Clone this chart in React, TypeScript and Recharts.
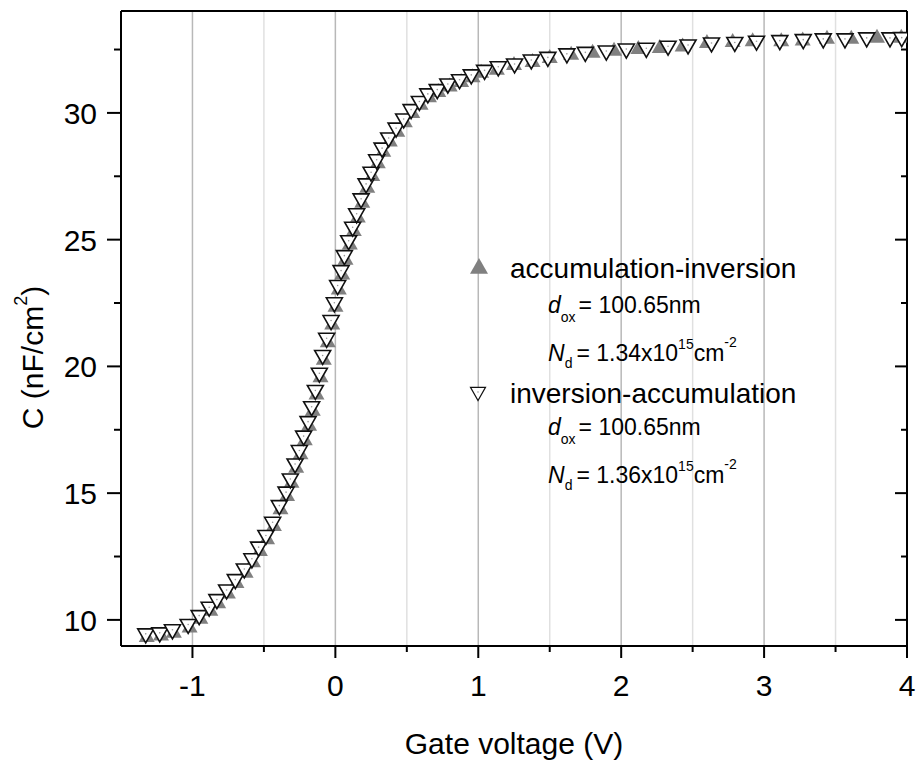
import React from "react";
import { ScatterChart, Scatter, XAxis, YAxis, ReferenceLine, Legend } from "recharts";

// accumulation-inversion sweep (grey up triangles)
const accVoltage = [
  -1.32, -1.22, -1.13, -1.02, -0.945, -0.875, -0.82, -0.752, -0.692, -0.628, -0.576, -0.528, -0.478, -0.43,
  -0.384, -0.338, -0.307, -0.274, -0.244, -0.214, -0.184, -0.158, -0.132, -0.104, -0.081, -0.053, -0.022, 0.001,
  0.024, 0.048, 0.071, 0.101, 0.129, 0.157, 0.188, 0.223, 0.258, 0.297, 0.335, 0.381, 0.433, 0.486, 0.538, 0.596,
  0.655, 0.72, 0.8, 0.88, 0.96, 1.02, 1.13, 1.25, 1.38, 1.5, 1.65, 1.8, 1.95, 2.12, 2.27, 2.43, 2.6, 2.78, 2.92,
  3.12, 3.27, 3.44, 3.61, 3.79, 3.96,
];
const accCapacitance = [
  9.36, 9.42, 9.53, 9.74, 10.08, 10.4, 10.7, 11.08, 11.49, 11.9, 12.31, 12.76, 13.22, 13.74,
  14.4, 14.93, 15.45, 16.04, 16.57, 17.13, 17.7, 18.29, 18.93, 19.61, 20.3, 20.99, 21.69, 22.39,
  23.07, 23.66, 24.25, 24.85, 25.38, 25.91, 26.5, 27.09, 27.55, 28.05, 28.51, 28.91, 29.3, 29.67, 30.04, 30.36,
  30.66, 30.86, 31.08, 31.26, 31.45, 31.62, 31.74, 31.93, 32.05, 32.21, 32.33, 32.41, 32.49, 32.56, 32.6, 32.66,
  32.8, 32.84, 32.87, 32.87, 32.9, 32.96, 32.96, 33.0, 33.0,
];

// inversion-accumulation sweep (white down triangles)
const invVoltage = [
  -1.327, -1.229, -1.14, -1.03, -0.953, -0.883, -0.829, -0.761, -0.7, -0.637, -0.584, -0.537, -0.486, -0.439,
  -0.392, -0.345, -0.315, -0.282, -0.252, -0.222, -0.191, -0.166, -0.14, -0.112, -0.089, -0.061, -0.03, -0.007,
  0.016, 0.04, 0.063, 0.093, 0.121, 0.149, 0.18, 0.215, 0.25, 0.289, 0.327, 0.373, 0.425, 0.478, 0.53, 0.588,
  0.647, 0.713, 0.787, 0.869, 0.951, 1.044, 1.14, 1.254, 1.371, 1.487, 1.62, 1.749, 1.896, 2.036, 2.176, 2.328,
  2.468, 2.632, 2.795, 2.947, 3.11, 3.274, 3.414, 3.566, 3.718, 3.881, 3.963,
];
const invCapacitance = [
  9.41, 9.45, 9.57, 9.78, 10.13, 10.46, 10.76, 11.14, 11.55, 11.97, 12.37, 12.83, 13.29, 13.81,
  14.47, 15.0, 15.52, 16.11, 16.64, 17.21, 17.78, 18.37, 19.01, 19.69, 20.39, 21.07, 21.77, 22.47,
  23.15, 23.74, 24.33, 24.92, 25.45, 25.98, 26.57, 27.16, 27.62, 28.11, 28.57, 28.97, 29.36, 29.72, 30.09, 30.41,
  30.71, 30.88, 31.1, 31.27, 31.46, 31.64, 31.78, 31.89, 32.05, 32.15, 32.29, 32.35, 32.4, 32.48, 32.51, 32.59,
  32.64, 32.72, 32.74, 32.79, 32.81, 32.85, 32.88, 32.88, 32.92, 32.92, 32.93,
];

const xTicks = [-1, -0.5, 0, 0.5, 1, 1.5, 2, 2.5, 3, 3.5, 4];
const xMajorGrid = [-1, 0, 1, 2, 3];
const xMinorGrid = [-0.5, 0.5, 1.5, 2.5, 3.5];
const yTicks = [10, 12.5, 15, 17.5, 20, 22.5, 25, 27.5, 30, 32.5];

const accData = accVoltage.map((v, i) => ({ v, c: accCapacitance[i] }));
const invData = invVoltage.map((v, i) => ({ v, c: invCapacitance[i] }));

const FONT = "'Liberation Sans', Arial, Helvetica, sans-serif";
const isMajor = (v: number, step: number) => Math.abs(v / step - Math.round(v / step)) < 1e-6;

function UpTriangle({ cx, cy, size = 16 }: any) {
  const h = size * 0.5;
  return <polygon points={`${cx},${cy - h} ${cx + h},${cy + h * 0.75} ${cx - h},${cy + h * 0.75}`} fill="#808080" />;
}

function DownTriangle({ cx, cy, size = 16, sw = 1.6 }: any) {
  const h = size * 0.5;
  return (
    <g>
      <polygon
        points={`${cx - h},${cy - h * 0.75} ${cx + h},${cy - h * 0.75} ${cx},${cy + h}`}
        fill="#fff"
        stroke="#111"
        strokeWidth={sw}
      />
      <circle cx={cx} cy={cy - 1} r={0.8} fill="#999" />
    </g>
  );
}

function BottomTick({ x, y, payload }: any) {
  const major = isMajor(payload.value, 1);
  return (
    <g>
      <line x1={x} x2={x} y1={y} y2={y + (major ? 12 : 6)} stroke="#000" strokeWidth={2} />
      {major && (
        <text x={x} y={y + 50} textAnchor="middle" fontSize={30} fontFamily={FONT} fill="#000">
          {payload.value}
        </text>
      )}
    </g>
  );
}

function TopTick({ x, y, payload }: any) {
  const major = isMajor(payload.value, 1);
  return <line x1={x} x2={x} y1={y} y2={y + (major ? 13 : 6)} stroke="#000" strokeWidth={2} />;
}

function LeftTick({ x, y, payload }: any) {
  const major = isMajor(payload.value, 5);
  return (
    <g>
      <line x1={x - (major ? 14 : 7)} x2={x} y1={y} y2={y} stroke="#000" strokeWidth={2} />
      {major && (
        <text x={x - 24} y={y + 11} textAnchor="end" fontSize={30} fontFamily={FONT} fill="#000">
          {payload.value}
        </text>
      )}
    </g>
  );
}

function RightTick({ x, y, payload }: any) {
  const major = isMajor(payload.value, 5);
  return <line x1={x - (major ? 12 : 6)} x2={x} y1={y} y2={y} stroke="#000" strokeWidth={2} />;
}

function LegendBox() {
  // local coordinates, box placed at page (450, 240)
  return (
    <svg width={360} height={260} style={{ display: "block", overflow: "visible" }}>
      <g fontFamily={FONT} fill="#000">
        <UpTriangle cx={29} cy={27} size={18} />
        <text x={60} y={38} fontSize={28}>accumulation-inversion</text>
        <text x={98} y={73} fontSize={23}>
          <tspan fontStyle="italic">d</tspan>
          <tspan fontSize={14} dy={9}>ox</tspan>
          <tspan dy={-9} dx={3}>= 100.65nm</tspan>
        </text>
        <text x={98} y={121} fontSize={23}>
          <tspan fontStyle="italic">N</tspan>
          <tspan fontSize={14} dy={7}>d</tspan>
          <tspan dy={-7} dx={4}>= 1.34x10</tspan>
          <tspan fontSize={14} dy={-12}>15</tspan>
          <tspan dy={12}>cm</tspan>
          <tspan fontSize={14} dy={-14}>-2</tspan>
        </text>
        <DownTriangle cx={28} cy={153} size={15} sw={1.2} />
        <text x={60} y={163} fontSize={28}>inversion-accumulation</text>
        <text x={98} y={195} fontSize={23}>
          <tspan fontStyle="italic">d</tspan>
          <tspan fontSize={14} dy={9}>ox</tspan>
          <tspan dy={-9} dx={3}>= 100.65nm</tspan>
        </text>
        <text x={98} y={243} fontSize={23}>
          <tspan fontStyle="italic">N</tspan>
          <tspan fontSize={14} dy={7}>d</tspan>
          <tspan dy={-7} dx={4}>= 1.36x10</tspan>
          <tspan fontSize={14} dy={-12}>15</tspan>
          <tspan dy={12}>cm</tspan>
          <tspan fontSize={14} dy={-14}>-2</tspan>
        </text>
      </g>
    </svg>
  );
}

const axisLine = { stroke: "#000", strokeWidth: 2 };

export default function App() {
  return (
    <div style={{ position: "absolute", left: 0, top: 0, background: "#fff" }}>
      <ScatterChart width={919} height={762} margin={{ top: 10, right: 11, bottom: 56, left: 41 }}>
        {xMinorGrid.map((v) => (
          <ReferenceLine key={`mi${v}`} x={v} stroke="#e0e0e0" strokeWidth={1.5} />
        ))}
        {xMajorGrid.map((v) => (
          <ReferenceLine key={`ma${v}`} x={v} stroke="#b8b8b8" strokeWidth={1.5} />
        ))}
        <XAxis
          type="number"
          dataKey="v"
          domain={[-1.5, 4]}
          ticks={xTicks}
          allowDataOverflow
          height={60}
          tickSize={0}
          tickMargin={0}
          tickLine={false}
          axisLine={axisLine}
          tick={<BottomTick />}
          interval={0}
          label={{
            content: ({ viewBox }: any) => (
              <text
                x={viewBox.x + viewBox.width / 2}
                y={viewBox.y + 108}
                textAnchor="middle"
                fontSize={30}
                fontFamily={FONT}
                fill="#000"
              >
                Gate voltage (V)
              </text>
            ),
          }}
        />
        <XAxis
          xAxisId="top"
          orientation="top"
          type="number"
          domain={[-1.5, 4]}
          ticks={xTicks}
          allowDataOverflow
          height={1}
          tickSize={0}
          tickMargin={0}
          tickLine={false}
          axisLine={axisLine}
          tick={<TopTick />}
          interval={0}
        />
        <YAxis
          type="number"
          dataKey="c"
          domain={[8.97, 34.02]}
          ticks={yTicks}
          allowDataOverflow
          width={80}
          tickSize={0}
          tickMargin={0}
          tickLine={false}
          axisLine={axisLine}
          tick={<LeftTick />}
          interval={0}
          label={{
            content: ({ viewBox }: any) => {
              const cx = 32;
              const cy = viewBox.y + viewBox.height / 2 + 29;
              return (
                <text
                  x={cx}
                  y={cy}
                  transform={`rotate(-90 ${cx} ${cy})`}
                  textAnchor="middle"
                  dominantBaseline="central"
                  fontSize={30}
                  fontFamily={FONT}
                  fill="#000"
                >
                  C (nF/cm
                  <tspan fontSize={18} dy={-11}>2</tspan>
                  <tspan dy={11}>)</tspan>
                </text>
              );
            },
          }}
        />
        <YAxis
          yAxisId="right"
          orientation="right"
          type="number"
          domain={[8.97, 34.02]}
          ticks={yTicks}
          allowDataOverflow
          width={1}
          tickSize={0}
          tickMargin={0}
          tickLine={false}
          axisLine={axisLine}
          tick={<RightTick />}
          interval={0}
        />
        <Scatter
          name="accumulation-inversion"
          data={accData}
          isAnimationActive={false}
          shape={(p: any) => <UpTriangle cx={p.cx} cy={p.cy} size={16} />}
        />
        <Scatter
          name="inversion-accumulation"
          data={invData}
          isAnimationActive={false}
          shape={(p: any) => <DownTriangle cx={p.cx} cy={p.cy} size={16} />}
        />
        <Legend
          layout="vertical"
          align="center"
          verticalAlign="middle"
          wrapperStyle={{ left: 450, top: 240, width: 360, height: 260 }}
          content={() => <LegendBox />}
        />
      </ScatterChart>
    </div>
  );
}
